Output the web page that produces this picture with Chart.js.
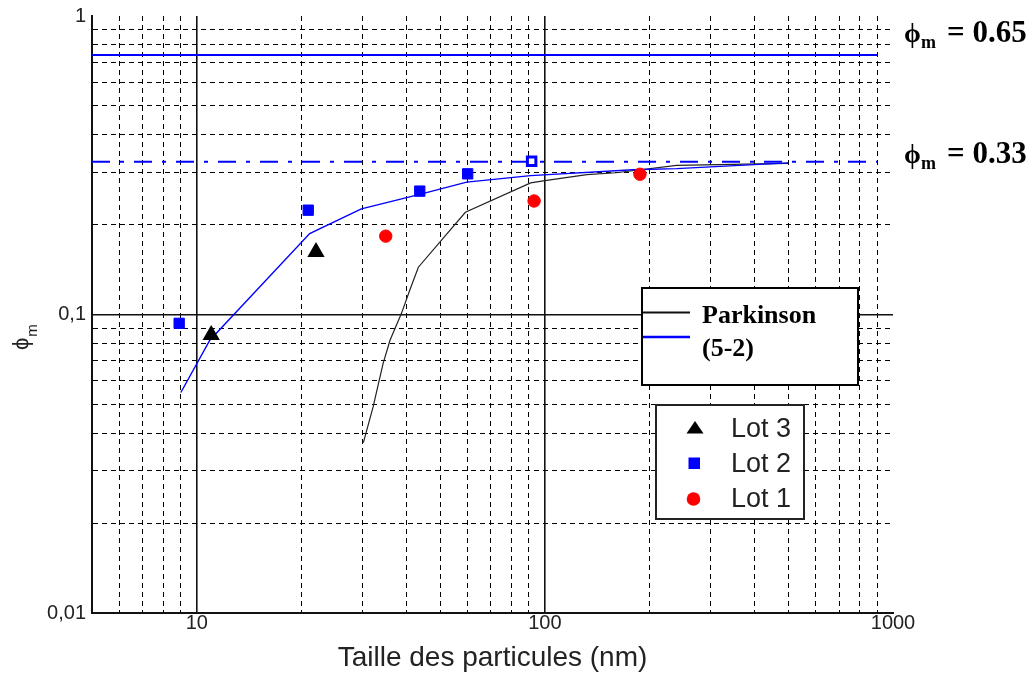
<!DOCTYPE html>
<html><head><meta charset="utf-8">
<script src="https://cdn.jsdelivr.net/npm/chart.js@4.4.0/dist/chart.umd.min.js"></script>
<style>html,body{margin:0;padding:0;background:#fff;} canvas{display:block;}</style>
</head><body>
<canvas id="c" width="1031" height="679"></canvas>
<script>
// ---- data ----
const xTickValues = [10, 100, 1000];
const xTickLabels = ['10', '100', '1000'];
const yTickValues = [0.01, 0.1, 1];
const yTickLabels = ['0,01', '0,1', '1'];
const xMinorGrid = [6, 7, 8, 9, 20, 30, 40, 50, 60, 70, 80, 90, 200, 300, 400, 500, 600, 700, 800, 900];
const yMinorGrid = [0.02, 0.03, 0.04, 0.05, 0.06, 0.07, 0.08, 0.09, 0.2, 0.3, 0.4, 0.5, 0.6, 0.7, 0.8, 0.9];
const xDecadeGrid = [10, 100];
const yDecadeGrid = [0.1];

const lot3X = [11.0, 22.0];
const lot3Y = [0.0853, 0.162];
const lot2X = [8.9, 20.9, 43.7, 60, 91.6];
const lot2Y = [0.0934, 0.2236, 0.259, 0.296, 0.326];
const lot1X = [34.9, 93.1, 187.5];
const lot1Y = [0.183, 0.240, 0.295];

const modelX = [9, 10.9, 21.1, 29.7, 43.7, 59.6, 91, 179, 239, 500];
const modelY = [0.0548, 0.082, 0.1866, 0.226, 0.2525, 0.2777, 0.292, 0.3055, 0.308, 0.322];
const parkinsonX = [30.1, 32.1, 34.3, 35.9, 38.7, 40.9, 43.3, 59.1, 91, 100, 132, 160, 239, 500];
const parkinsonY = [0.0372, 0.049, 0.0686, 0.082, 0.1007, 0.1205, 0.144, 0.220, 0.276, 0.281, 0.294, 0.2985, 0.316, 0.321];

const limitX = [5, 900];
const limitHighY = [0.74, 0.74];
const limitLowY = [0.325, 0.325];

const xTitle = 'Taille des particules (nm)';
const yTitleMain = 'ϕ';
const yTitleSub = 'm';
const noteHigh = '= 0.65';
const noteLow = '= 0.33';
const lineLegendLabels = ['Parkinson', '(5-2)'];
const markerLegendLabels = ['Lot 3', 'Lot 2', 'Lot 1'];

// ---- helpers ----
const pts = (xs, ys) => xs.map((x, i) => ({x: x, y: ys[i]}));
const near = (v, arr) => arr.some(t => Math.abs(Math.log10(v) - Math.log10(t)) < 1e-6);
const labelFor = (v, vals, labs) => { for (let i = 0; i < vals.length; i++) if (near(v, [vals[i]])) return labs[i]; return ''; };
const sans = 'Liberation Sans, Arial, "DejaVu Sans", sans-serif';
const serif = '"Liberation Serif", "Times New Roman", "DejaVu Serif", serif';
const BLUE = '#0000ff';

const overlay = {
  id: 'overlay',
  afterDraw(chart) {
    const ctx = chart.ctx;
    ctx.save();
    // y-axis title (rotated phi_m)
    ctx.save();
    ctx.translate(28, 350);
    ctx.rotate(-Math.PI / 2);
    ctx.fillStyle = '#222';
    ctx.textBaseline = 'alphabetic';
    ctx.font = '22px ' + sans;
    ctx.fillText(yTitleMain, 0, 0);
    const w = ctx.measureText(yTitleMain).width;
    ctx.font = '15px ' + sans;
    ctx.fillText(yTitleSub, w + 1, 9);
    ctx.restore();

    // right notes
    ctx.fillStyle = '#000';
    const notes = [[noteHigh, 42], [noteLow, 163]];
    notes.forEach(([t, by]) => {
      ctx.font = 'bold 27px ' + serif;
      ctx.fillText(yTitleMain, 904, by);
      ctx.font = 'bold 18px ' + serif;
      ctx.fillText(yTitleSub, 921, by + 6);
      ctx.font = 'bold 31px ' + serif;
      ctx.fillText(t, 947, by);
    });

    // line legend
    ctx.fillStyle = '#fff';
    ctx.fillRect(642, 288, 216, 97);
    ctx.lineWidth = 2;
    ctx.strokeStyle = '#000';
    ctx.strokeRect(642, 288, 216, 97);
    ctx.beginPath(); ctx.moveTo(643, 312.5); ctx.lineTo(690, 312.5);
    ctx.strokeStyle = '#111'; ctx.lineWidth = 2; ctx.stroke();
    ctx.beginPath(); ctx.moveTo(643, 337); ctx.lineTo(690, 337);
    ctx.strokeStyle = BLUE; ctx.lineWidth = 2.5; ctx.stroke();
    ctx.fillStyle = '#000';
    ctx.font = 'bold 26px ' + serif;
    ctx.fillText(lineLegendLabels[0], 702, 323);
    ctx.fillText(lineLegendLabels[1], 702, 356);

    // marker legend
    ctx.fillStyle = '#fff';
    ctx.fillRect(656, 405, 148, 114);
    ctx.lineWidth = 2;
    ctx.strokeStyle = '#222';
    ctx.strokeRect(656, 405, 148, 114);
    ctx.fillStyle = '#000';
    ctx.beginPath(); ctx.moveTo(695, 421); ctx.lineTo(703.5, 433.5); ctx.lineTo(686.5, 433.5); ctx.closePath(); ctx.fill();
    ctx.fillStyle = BLUE;
    ctx.fillRect(688.5, 457.5, 11.5, 11.5);
    ctx.fillStyle = '#ff0000';
    ctx.beginPath(); ctx.arc(693.5, 499, 6.8, 0, Math.PI * 2); ctx.fill();
    ctx.fillStyle = '#222';
    ctx.font = '27px ' + sans;
    ctx.fillText(markerLegendLabels[0], 731, 437);
    ctx.fillText(markerLegendLabels[1], 731, 472);
    ctx.fillText(markerLegendLabels[2], 731, 507);
    ctx.restore();
  }
};

const xMainTicks = xMinorGrid.concat(xTickValues).sort((a, b) => a - b);
const yMainTicks = yMinorGrid.concat(yTickValues).sort((a, b) => a - b);

new Chart(document.getElementById('c'), {
  type: 'scatter',
  data: {
    datasets: [
      { label: 'Lot 3', data: pts(lot3X, lot3Y), pointStyle: 'triangle', pointRadius: 10, pointBackgroundColor: '#000', pointBorderColor: '#000', pointBorderWidth: 0 },
      { label: 'Lot 2', data: pts(lot2X, lot2Y), pointStyle: 'rect',
        pointRadius: (c) => c.dataIndex === lot2X.length - 1 ? 6 : 7.3,
        pointBackgroundColor: (c) => c.dataIndex === lot2X.length - 1 ? '#fff' : BLUE,
        pointBorderColor: BLUE,
        pointBorderWidth: (c) => c.dataIndex === lot2X.length - 1 ? 3 : 1 },
      { label: 'Lot 1', data: pts(lot1X, lot1Y), pointStyle: 'circle', pointRadius: 6.2, pointBackgroundColor: '#ff0000', pointBorderColor: '#ff0000', pointBorderWidth: 1 },
      { label: '(5-2)', type: 'line', data: pts(modelX, modelY), borderColor: BLUE, borderWidth: 1.4, pointRadius: 0, tension: 0, fill: false },
      { label: 'Parkinson', type: 'line', data: pts(parkinsonX, parkinsonY), borderColor: '#222', borderWidth: 1.2, pointRadius: 0, tension: 0, fill: false },
      { label: 'high', type: 'line', data: pts(limitX, limitHighY), borderColor: BLUE, borderWidth: 2, pointRadius: 0, fill: false },
      { label: 'low', type: 'line', data: pts(limitX, limitLowY), borderColor: BLUE, borderWidth: 2, borderDash: [18, 10, 4, 10], pointRadius: 0, fill: false }
    ]
  },
  options: {
    responsive: false,
    animation: false,
    events: [],
    layout: { padding: { left: 0, top: 15, right: 138, bottom: 0 } },
    plugins: { legend: { display: false }, tooltip: { enabled: false } },
    scales: {
      x: {
        type: 'logarithmic', position: 'bottom', min: 5, max: 1000,
        afterBuildTicks: (s) => { s.ticks = xMainTicks.map(v => ({value: v})); },
        afterFit: (s) => { s.height = 66; },
        ticks: { autoSkip: false, maxRotation: 0, padding: 0, color: '#222',
          font: { family: sans, size: 20, lineHeight: 1 },
          callback: (v) => labelFor(v, xTickValues, xTickLabels) },
        grid: { drawTicks: false, lineWidth: 1,
          color: (c) => (c.tick && near(c.tick.value, xTickValues)) ? 'rgba(0,0,0,0)' : '#000' },
        border: { display: true, color: '#111', width: 2, dash: [5, 4] },
        title: { display: true, text: xTitle, color: '#222', font: { family: sans, size: 28 }, padding: { top: 0, bottom: 4 } }
      },
      xMajor: {
        type: 'logarithmic', position: 'bottom', axis: 'x', min: 5, max: 1000,
        afterBuildTicks: (s) => { s.ticks = xDecadeGrid.map(v => ({value: v})); },
        afterFit: (s) => { s.height = 0; },
        ticks: { display: false },
        grid: { drawTicks: false, lineWidth: 1.6, color: '#111' },
        border: { display: false }
      },
      y: {
        type: 'logarithmic', position: 'left', min: 0.01, max: 1,
        afterBuildTicks: (s) => { s.ticks = yMainTicks.map(v => ({value: v})); },
        afterFit: (s) => { s.width = 92; },
        ticks: { autoSkip: false, padding: 6, color: '#222',
          font: { family: sans, size: 20, lineHeight: 1 },
          callback: (v) => labelFor(v, yTickValues, yTickLabels) },
        grid: { drawTicks: false, lineWidth: 1,
          color: (c) => (c.tick && near(c.tick.value, yTickValues)) ? 'rgba(0,0,0,0)' : '#000' },
        border: { display: true, color: '#111', width: 2, dash: [5, 4] }
      },
      yMajor: {
        type: 'logarithmic', position: 'left', axis: 'y', min: 0.01, max: 1,
        afterBuildTicks: (s) => { s.ticks = yDecadeGrid.map(v => ({value: v})); },
        afterFit: (s) => { s.width = 0; },
        ticks: { display: false },
        grid: { drawTicks: false, lineWidth: 1.6, color: '#111' },
        border: { display: false }
      }
    }
  },
  plugins: [overlay]
});
</script>
</body></html>
